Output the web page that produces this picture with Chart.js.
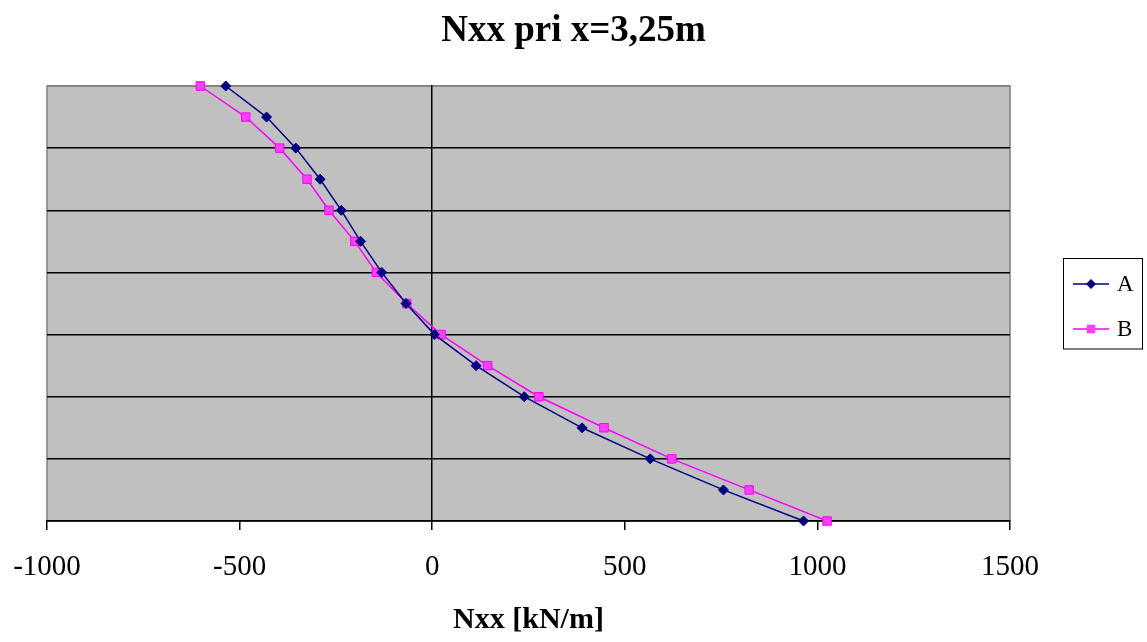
<!DOCTYPE html>
<html>
<head>
    <title>Nxx pri x=3,25m</title>
    <script src="https://cdn.jsdelivr.net/npm/chart.js"></script>
    <style>
        body {
            margin: 0;
            background: #fff;
        }
        canvas {
            display: block;
        }
    </style>
</head>
<body>
<canvas id="nxxChart" width="1147" height="642"></canvas>
<script>
    // positions along the plate (top to bottom), half-gridline steps
    const zValues = [7, 6.5, 6, 5.5, 5, 4.5, 4, 3.5, 3, 2.5, 2, 1.5, 1, 0.5, 0];
    // Nxx [kN/m] for the two series
    const nxxA = [-536, -430, -354, -291, -236, -186, -131, -68, 6, 114, 239, 389, 566, 756, 964];
    const nxxB = [-602, -484, -396, -325, -268, -201, -145, -66, 23, 144, 277, 446, 622, 823, 1025];
    const xTicks = [-1000, -500, 0, 500, 1000, 1500];

    const serif = "'Liberation Serif', 'Times New Roman', serif";
    Chart.defaults.color = '#000';
    Chart.defaults.font.family = serif;

    const toPoints = (xs) => xs.map((x, i) => ({x: x, y: zValues[i]}));

    // grey plot area with a grey frame, like the old spreadsheet charts
    const plotArea = {
        id: 'plotArea',
        beforeDraw(chart) {
            const {ctx, chartArea: a} = chart;
            ctx.save();
            ctx.fillStyle = '#c0c0c0';
            ctx.fillRect(a.left, a.top, a.right - a.left, a.bottom - a.top);
            ctx.strokeStyle = '#808080';
            ctx.lineWidth = 1.5;
            ctx.strokeRect(a.left, a.top, a.right - a.left, a.bottom - a.top);
            ctx.restore();
        }
    };

    // title centred on the whole page, not on the plot
    const pageTitle = {
        id: 'pageTitle',
        afterDraw(chart) {
            const ctx = chart.ctx;
            ctx.save();
            ctx.fillStyle = '#000';
            ctx.font = 'bold 37px ' + serif;
            ctx.textAlign = 'center';
            ctx.textBaseline = 'middle';
            ctx.fillText('Nxx pri x=3,25m', chart.width / 2, 31);
            ctx.restore();
        }
    };

    // legend box on the right: line + marker + name
    const boxLegend = {
        id: 'boxLegend',
        afterDraw(chart) {
            const ctx = chart.ctx;
            ctx.save();
            ctx.strokeStyle = '#000';
            ctx.lineWidth = 1;
            ctx.strokeRect(1063.5, 258.5, 79, 90.5);
            const rows = [284, 329];
            chart.data.datasets.forEach((ds, i) => {
                const y = rows[i];
                ctx.strokeStyle = ds.borderColor;
                ctx.lineWidth = ds.borderWidth;
                ctx.beginPath();
                ctx.moveTo(1073, y);
                ctx.lineTo(1109, y);
                ctx.stroke();
                ctx.fillStyle = ds.pointBackgroundColor;
                const r = ds.pointRadius;
                ctx.beginPath();
                if (ds.pointStyle === 'rectRot') {
                    ctx.moveTo(1091, y - r);
                    ctx.lineTo(1091 + r, y);
                    ctx.lineTo(1091, y + r);
                    ctx.lineTo(1091 - r, y);
                    ctx.closePath();
                } else {
                    const s = r * Math.SQRT1_2;
                    ctx.rect(1091 - s, y - s, 2 * s, 2 * s);
                }
                ctx.fill();
                ctx.fillStyle = '#000';
                ctx.font = '23px ' + serif;
                ctx.textBaseline = 'middle';
                ctx.fillText(ds.label, 1117, y + 1);
            });
            ctx.restore();
        }
    };

    const ctx = document.getElementById('nxxChart').getContext('2d');
    const nxxChart = new Chart(ctx, {
        type: 'scatter',
        data: {
            datasets: [
                {
                    label: 'A',
                    data: toPoints(nxxA),
                    showLine: true,
                    borderColor: '#000080',
                    borderWidth: 1.5,
                    pointStyle: 'rectRot',
                    pointRadius: 5,
                    pointBackgroundColor: '#000080',
                    pointBorderColor: '#000080',
                    pointBorderWidth: 1,
                    clip: false
                },
                {
                    label: 'B',
                    data: toPoints(nxxB),
                    showLine: true,
                    borderColor: '#ff00ff',
                    borderWidth: 1.5,
                    pointStyle: 'rect',
                    pointRadius: 6,
                    pointBackgroundColor: '#ff40ff',
                    pointBorderColor: '#ff00ff',
                    pointBorderWidth: 1,
                    clip: false
                }
            ]
        },
        options: {
            responsive: false,
            animation: false,
            layout: {
                padding: {left: 47, right: 137, top: 86, bottom: 0}
            },
            plugins: {
                legend: {display: false},
                tooltip: {enabled: false},
                title: {display: false}
            },
            scales: {
                x: {
                    type: 'linear',
                    position: 'bottom',
                    min: xTicks[0],
                    max: xTicks[xTicks.length - 1],
                    afterBuildTicks: (scale) => {
                        scale.ticks = xTicks.map(v => ({value: v}));
                    },
                    afterFit: (scale) => {
                        scale.height = 121;
                        scale.paddingLeft = 0;
                        scale.paddingRight = 0;
                    },
                    ticks: {
                        font: {size: 29, family: serif},
                        color: '#000',
                        padding: 20,
                        maxRotation: 0,
                        callback: (v) => String(v)
                    },
                    grid: {
                        drawOnChartArea: false,
                        tickLength: 9,
                        tickColor: '#000',
                        lineWidth: 1.5
                    },
                    border: {color: '#000', width: 1.5},
                    title: {
                        display: true,
                        text: 'Nxx [kN/m]',
                        font: {size: 30, weight: 'bold', family: serif},
                        color: '#000',
                        padding: {top: 0, bottom: 4}
                    }
                },
                y: {
                    type: 'linear',
                    position: {x: 0},
                    min: 0,
                    max: 7,
                    ticks: {stepSize: 1, display: false},
                    grid: {
                        color: (c) => (c.tick && c.tick.value === 7 ? '#808080' : '#000'),
                        drawTicks: false,
                        lineWidth: 1.5
                    },
                    border: {color: '#000', width: 1.5}
                }
            }
        },
        plugins: [plotArea, pageTitle, boxLegend]
    });
</script>
</body>
</html>
